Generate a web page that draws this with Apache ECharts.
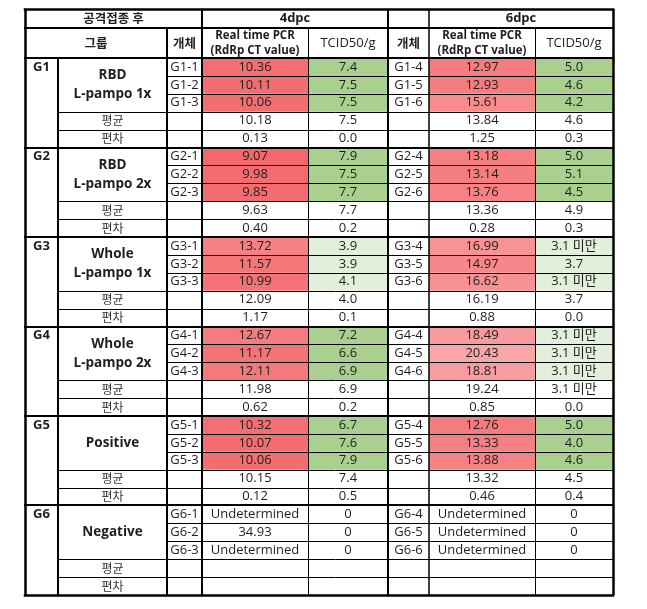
<!DOCTYPE html>
<html><head><meta charset="utf-8">
<script src="https://cdn.jsdelivr.net/npm/echarts@6/dist/echarts.min.js"></script>
<style>html,body{margin:0;padding:0;background:#fff}#c{width:647px;height:609px}</style>
</head><body><div id="c"></div>
<script>
// ---------- data ----------
const headerTop = ['공격접종 후', '4dpc', '', '6dpc'];
const headerSub = ['그룹', '개체', 'Real time PCR\n(RdRp CT value)', 'TCID50/g', '개체', 'Real time PCR\n(RdRp CT value)', 'TCID50/g'];
const groups = ['G1', 'G2', 'G3', 'G4', 'G5', 'G6'];
const groupNames = ['RBD\nL-pampo 1x', 'RBD\nL-pampo 2x', 'Whole\nL-pampo 1x', 'Whole\nL-pampo 2x', 'Positive', 'Negative'];
const statLabels = ['평균', '편차'];
const ids4 = [['G1-1','G1-2','G1-3'],['G2-1','G2-2','G2-3'],['G3-1','G3-2','G3-3'],['G4-1','G4-2','G4-3'],['G5-1','G5-2','G5-3'],['G6-1','G6-2','G6-3']];
const ids6 = [['G1-4','G1-5','G1-6'],['G2-4','G2-5','G2-6'],['G3-4','G3-5','G3-6'],['G4-4','G4-5','G4-6'],['G5-4','G5-5','G5-6'],['G6-4','G6-5','G6-6']];
const pcr4 = [['10.36','10.11','10.06'],['9.07','9.98','9.85'],['13.72','11.57','10.99'],['12.67','11.17','12.11'],['10.32','10.07','10.06'],['Undetermined','34.93','Undetermined']];
const pcr4Mean = ['10.18','9.63','12.09','11.98','10.15',''];
const pcr4Sd = ['0.13','0.40','1.17','0.62','0.12',''];
const tcid4 = [['7.4','7.5','7.5'],['7.9','7.5','7.7'],['3.9','3.9','4.1'],['7.2','6.6','6.9'],['6.7','7.6','7.9'],['0','0','0']];
const tcid4Mean = ['7.5','7.7','4.0','6.9','7.4',''];
const tcid4Sd = ['0.0','0.2','0.1','0.2','0.5',''];
const pcr6 = [['12.97','12.93','15.61'],['13.18','13.14','13.76'],['16.99','14.97','16.62'],['18.49','20.43','18.81'],['12.76','13.33','13.88'],['Undetermined','Undetermined','Undetermined']];
const pcr6Mean = ['13.84','13.36','16.19','19.24','13.32',''];
const pcr6Sd = ['1.25','0.28','0.88','0.85','0.46',''];
const tcid6 = [['5.0','4.6','4.2'],['5.0','5.1','4.5'],['3.1 미만','3.7','3.1 미만'],['3.1 미만','3.1 미만','3.1 미만'],['5.0','4.0','4.6'],['0','0','0']];
const tcid6Mean = ['4.6','4.9','3.7','3.1 미만','4.5',''];
const tcid6Sd = ['0.3','0.3','0.0','0.0','0.4',''];

// ---------- layout / style ----------
const X = [25, 58, 167, 202, 308, 388, 429, 535, 613];
const YT = 9, YH1 = 28, YH2 = 58, RH = 17.9;
const FONT = "'Open Sans', 'Noto Sans CJK KR', sans-serif";
const KFONT = "'Noto Sans CJK KR', 'Open Sans', sans-serif";
const TXT = '#1e1e1e';
const GREEN = '#A9D08E', LGREEN = '#E2EFDA';
const lightGreen4 = [2], lightGreen6 = [2, 3];
const uncolored = [5];
function redScale(v) {
  const t = Math.max(0, Math.min(1, (v - 9) / (20.5 - 9)));
  return echarts.color.lerp(t, ['#F2686B', '#F9A6A8']);
}
const rowTop = i => YH2 + i * RH;

const cells = [];
function cell(x0, x1, y0, y1, text, o) {
  cells.push(Object.assign({x0, x1, y0, y1, text}, o || {}));
}
// header
cell(X[0], X[3], YT, YH1, headerTop[0], {font: 'bold 12.5px ' + KFONT});
cell(X[3], X[5], YT, YH1, headerTop[1], {font: 'bold 13px ' + FONT});
cell(X[5], X[6], YT, YH1, headerTop[2], {});
cell(X[6], X[8], YT, YH1, headerTop[3], {font: 'bold 13px ' + FONT});
cell(X[0], X[2], YH1, YH2, headerSub[0], {font: 'bold 12.5px ' + KFONT});
cell(X[2], X[3], YH1, YH2, headerSub[1], {font: 'bold 12.5px ' + KFONT});
cell(X[3], X[4], YH1, YH2, headerSub[2], {font: 'bold 11.5px ' + FONT, lh: 15});
cell(X[4], X[5], YH1, YH2, headerSub[3], {font: '13px ' + FONT});
cell(X[5], X[6], YH1, YH2, headerSub[4], {font: 'bold 12.5px ' + KFONT});
cell(X[6], X[7], YH1, YH2, headerSub[5], {font: 'bold 11.5px ' + FONT, lh: 15});
cell(X[7], X[8], YH1, YH2, headerSub[6], {font: '13px ' + FONT});

const VF = '13px ' + FONT;
groups.forEach((g, gi) => {
  const r0 = gi * 5;
  cell(X[0], X[1], rowTop(r0), rowTop(r0 + 5), g, {font: 'bold 13px ' + FONT, top: true});
  cell(X[1], X[2], rowTop(r0), rowTop(r0 + 3), groupNames[gi], {font: 'bold 13.5px ' + FONT, lh: 19});
  for (let k = 0; k < 3; k++) {
    const y0 = rowTop(r0 + k), y1 = rowTop(r0 + k + 1);
    const colored = uncolored.indexOf(gi) < 0;
    const v4 = parseFloat(pcr4[gi][k]), v6 = parseFloat(pcr6[gi][k]);
    cell(X[2], X[3], y0, y1, ids4[gi][k], {font: VF});
    cell(X[3], X[4], y0, y1, pcr4[gi][k], {font: VF, fill: colored && !isNaN(v4) ? redScale(v4) : null});
    cell(X[4], X[5], y0, y1, tcid4[gi][k], {font: VF, fill: colored ? (lightGreen4.indexOf(gi) >= 0 ? LGREEN : GREEN) : null});
    cell(X[5], X[6], y0, y1, ids6[gi][k], {font: VF});
    cell(X[6], X[7], y0, y1, pcr6[gi][k], {font: VF, fill: colored && !isNaN(v6) ? redScale(v6) : null});
    cell(X[7], X[8], y0, y1, tcid6[gi][k], {font: VF, fill: colored ? (lightGreen6.indexOf(gi) >= 0 ? LGREEN : GREEN) : null});
  }
  const stats = [[pcr4Mean, tcid4Mean, pcr6Mean, tcid6Mean], [pcr4Sd, tcid4Sd, pcr6Sd, tcid6Sd]];
  stats.forEach((s, si) => {
    const y0 = rowTop(r0 + 3 + si), y1 = rowTop(r0 + 4 + si);
    cell(X[1], X[2], y0, y1, statLabels[si], {font: '12px ' + KFONT, color: '#333'});
    cell(X[3], X[4], y0, y1, s[0][gi], {font: VF});
    cell(X[4], X[5], y0, y1, s[1][gi], {font: VF});
    cell(X[6], X[7], y0, y1, s[2][gi], {font: VF});
    cell(X[7], X[8], y0, y1, s[3][gi], {font: VF});
  });
});

// border lines [x0, y0, x1, y1, width]
const YB = rowTop(30);
const lines = [];
lines.push([X[0], YT, X[8], YT, 2.5]);
lines.push([X[0], YH1, X[8], YH1, 2]);
lines.push([X[0], YH2, X[8], YH2, 2]);
for (let gi = 0; gi < 6; gi++) {
  const r0 = gi * 5;
  if (gi > 0) lines.push([X[0], rowTop(r0), X[8], rowTop(r0), 2]);
  lines.push([X[2], rowTop(r0 + 1), X[8], rowTop(r0 + 1), 1]);
  lines.push([X[2], rowTop(r0 + 2), X[8], rowTop(r0 + 2), 1]);
  lines.push([X[1], rowTop(r0 + 3), X[8], rowTop(r0 + 3), 1]);
  lines.push([X[1], rowTop(r0 + 4), X[8], rowTop(r0 + 4), 1]);
}
lines.push([X[0], YB, X[8], YB, 2.5]);
lines.push([X[0], YT, X[0], YB, 2.5]);
lines.push([X[1], YH2, X[1], YB, 2]);
lines.push([X[2], YH1, X[2], YB, 2]);
lines.push([X[3], YT, X[3], YB, 2]);
lines.push([X[4], YH1, X[4], YB, 1]);
lines.push([X[5], YT, X[5], YB, 2]);
lines.push([X[6], YT, X[6], YB, 1.5]);
lines.push([X[7], YH1, X[7], YB, 1]);
lines.push([X[8], YT, X[8], YB, 2.5]);

const chart = echarts.init(document.getElementById('c'), null, {renderer: 'canvas'});
chart.setOption({
  animation: false,
  backgroundColor: '#fff',
  grid: {left: 0, right: 0, top: 0, bottom: 0},
  xAxis: {type: 'value', min: 0, max: 647, show: false},
  yAxis: {type: 'value', min: 0, max: 609, inverse: true, show: false},
  series: [
    {
      type: 'custom', silent: true,
      data: cells.map(c => [c.x0, c.y0, c.x1, c.y1]),
      renderItem(params, api) {
        const c = cells[params.dataIndex];
        const p0 = api.coord([api.value(0), api.value(1)]);
        const p1 = api.coord([api.value(2), api.value(3)]);
        const children = [];
        if (c.fill) children.push({type: 'rect', shape: {x: p0[0], y: p0[1], width: p1[0] - p0[0], height: p1[1] - p0[1]}, style: {fill: c.fill}});
        if (c.text) children.push({
          type: 'text',
          x: (p0[0] + p1[0]) / 2,
          y: c.top ? p0[1] + RH / 2 : (p0[1] + p1[1]) / 2,
          style: {text: c.text, font: c.font, fill: c.color || TXT, align: 'center', verticalAlign: 'middle', lineHeight: c.lh}
        });
        return {type: 'group', children};
      }
    },
    {
      type: 'custom', silent: true,
      data: lines,
      renderItem(params, api) {
        const a = api.coord([api.value(0), api.value(1)]);
        const b = api.coord([api.value(2), api.value(3)]);
        const w = api.value(4);
        const off = (Math.round(w) % 2 === 1) ? 0.5 : 0;
        const horiz = Math.abs(a[1] - b[1]) < 0.01;
        const ax = horiz ? a[0] - w / 2 : Math.round(a[0]) + off;
        const bx = horiz ? b[0] + w / 2 : Math.round(b[0]) + off;
        const ay = horiz ? Math.round(a[1]) + off : a[1];
        const by = horiz ? Math.round(b[1]) + off : b[1];
        return {type: 'line', shape: {x1: ax, y1: ay, x2: bx, y2: by}, style: {stroke: '#000', lineWidth: w}};
      }
    }
  ]
});
</script></body></html>
